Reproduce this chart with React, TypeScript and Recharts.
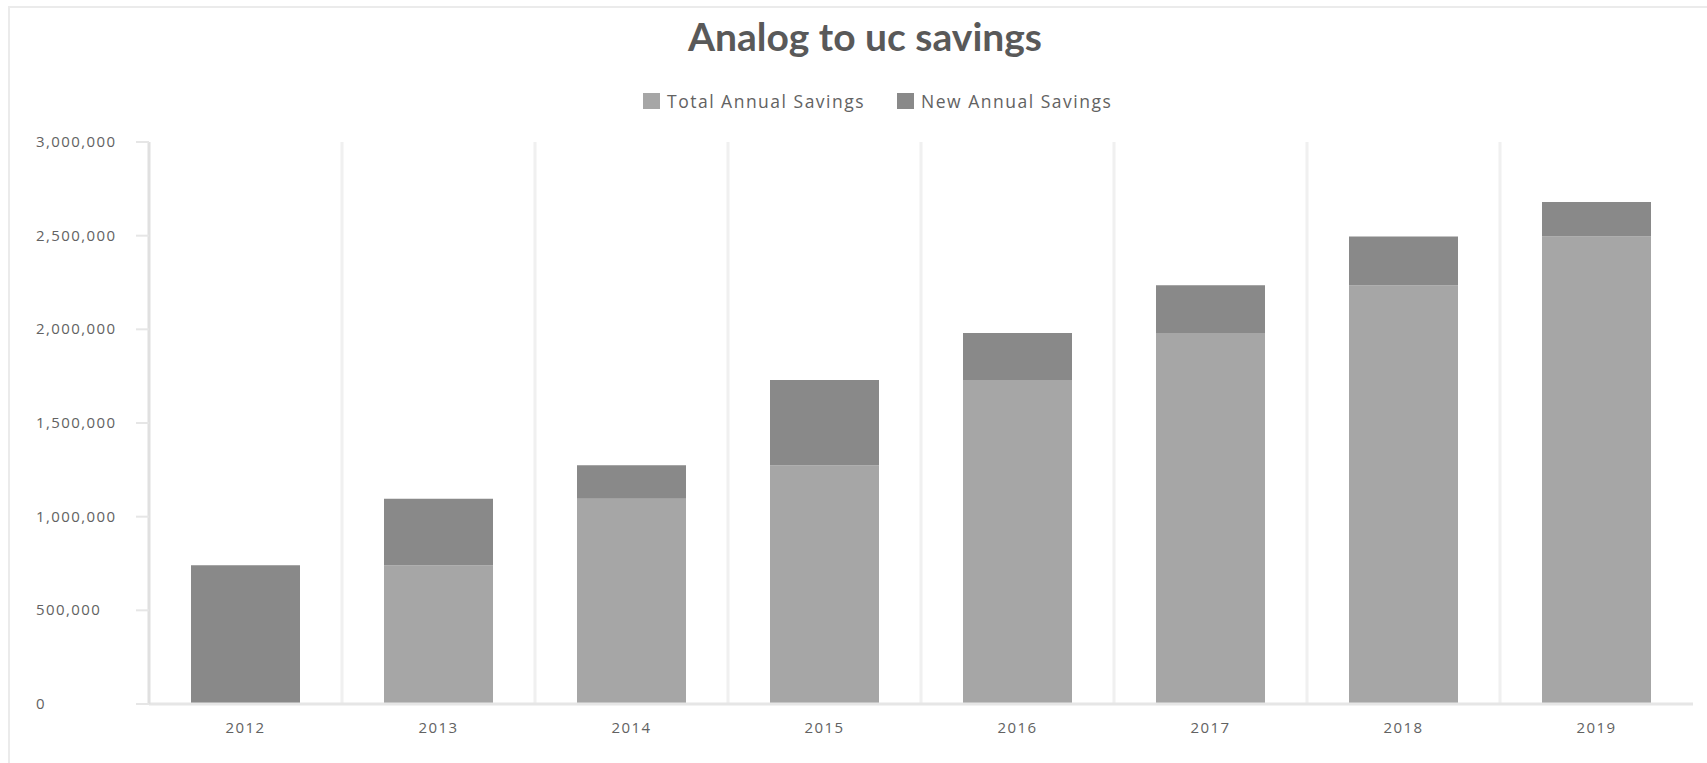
import { BarChart, Bar, XAxis, YAxis, CartesianGrid, Legend } from 'recharts';

const years = ['2012', '2013', '2014', '2015', '2016', '2017', '2018', '2019'];
const totalSavings = [0, 740000, 1095000, 1275000, 1730000, 1980000, 2235000, 2495000];
const newSavings = [740000, 355000, 180000, 455000, 250000, 255000, 260000, 185000];
const yTicks = [0, 500000, 1000000, 1500000, 2000000, 2500000, 3000000];

const data = years.map((year, i) => ({
  year,
  total: totalSavings[i],
  added: newSavings[i],
}));

const TOTAL_COLOR = '#a6a6a6';
const NEW_COLOR = '#898989';
const TEXT_COLOR = '#626262';
const LINE_COLOR = '#e6e6e6';

function YTick({ y, payload }: { y?: number; payload?: { value: number } }) {
  return (
    <text
      x={36}
      y={y}
      dy={5}
      textAnchor="start"
      fill={TEXT_COLOR}
      fontSize={15}
      fontFamily="'Open Sans', sans-serif"
      letterSpacing={1.4}
    >
      {(payload?.value ?? 0).toLocaleString('en-US')}
    </text>
  );
}

function LegendBox() {
  const items = [
    { label: 'Total Annual Savings', color: TOTAL_COLOR },
    { label: 'New Annual Savings', color: NEW_COLOR },
  ];
  return (
    <div style={{ position: 'absolute', left: 643, top: 92, display: 'flex', gap: 32 }}>
      {items.map((it) => (
        <div key={it.label} style={{ display: 'flex', alignItems: 'center' }}>
          <span style={{ width: 17, height: 16, background: it.color, display: 'inline-block', marginRight: 7 }} />
          <span
            style={{
              color: TEXT_COLOR,
              fontSize: 17.5,
              fontFamily: "'Open Sans', sans-serif",
              letterSpacing: 1.5,
              lineHeight: '18px',
            }}
          >
            {it.label}
          </span>
        </div>
      ))}
    </div>
  );
}

// grid lines sit between the categories: band starts of the x scale
function categoryBoundaries({ xAxis, offset }: any): number[] {
  const scale = xAxis?.scale;
  const rest = years.slice(1);
  let pts: any[] = [];
  if (typeof scale === 'function') pts = rest.map((y) => scale(y));
  else if (scale && typeof scale.map === 'function') pts = rest.map((y) => scale.map(y));
  pts = pts.filter((v) => typeof v === 'number' && !isNaN(v));
  if (pts.length === rest.length) return pts;
  // fallback: equal bands across the plot area
  const step = offset.width / years.length;
  return rest.map((_, i) => offset.left + step * (i + 1));
}

export default function App() {
  return (
    <div style={{ position: 'relative', width: 1707, height: 763, overflow: 'hidden', background: '#fff' }}>
      <style>{'body{margin:0}'}</style>
      <div
        style={{
          position: 'absolute',
          left: 8,
          top: 6,
          width: 1740,
          height: 800,
          border: '2px solid #ebebeb',
        }}
      />
      <div
        style={{
          position: 'absolute',
          left: 0,
          width: 1730,
          top: 13,
          textAlign: 'center',
          fontFamily: 'Lato, sans-serif',
          fontWeight: 700,
          fontSize: 39,
          color: '#595959',
        }}
      >
        Analog to uc savings
      </div>
      <div style={{ position: 'absolute', left: 0, top: 0 }}>
        <BarChart
          width={1707}
          height={763}
          data={data}
          margin={{ top: 142, right: 14, left: 0, bottom: 29 }}
          barSize={109}
        >
          <Legend content={<LegendBox />} wrapperStyle={{ position: 'absolute', left: 0, top: 0 }} />
          <CartesianGrid
            horizontal={false}
            stroke="#f0f0f0"
            strokeWidth={3}
            verticalCoordinatesGenerator={categoryBoundaries}
          />
          <XAxis
            dataKey="year"
            height={30}
            tickLine={false}
            axisLine={{ stroke: LINE_COLOR, strokeWidth: 3 }}
            tick={{ fill: TEXT_COLOR, fontSize: 15, fontFamily: "'Open Sans', sans-serif", letterSpacing: 1.4 }}
            tickMargin={12}
          />
          <YAxis
            width={149}
            domain={[0, 3000000]}
            ticks={yTicks}
            interval={0}
            tick={<YTick />}
            axisLine={{ stroke: '#e0e0e0', strokeWidth: 3 }}
            tickLine={{ stroke: LINE_COLOR, strokeWidth: 2 }}
            tickSize={13}
          />
          <Bar dataKey="total" name="Total Annual Savings" stackId="s" fill={TOTAL_COLOR} isAnimationActive={false} />
          <Bar dataKey="added" name="New Annual Savings" stackId="s" fill={NEW_COLOR} isAnimationActive={false} />
        </BarChart>
      </div>
    </div>
  );
}
